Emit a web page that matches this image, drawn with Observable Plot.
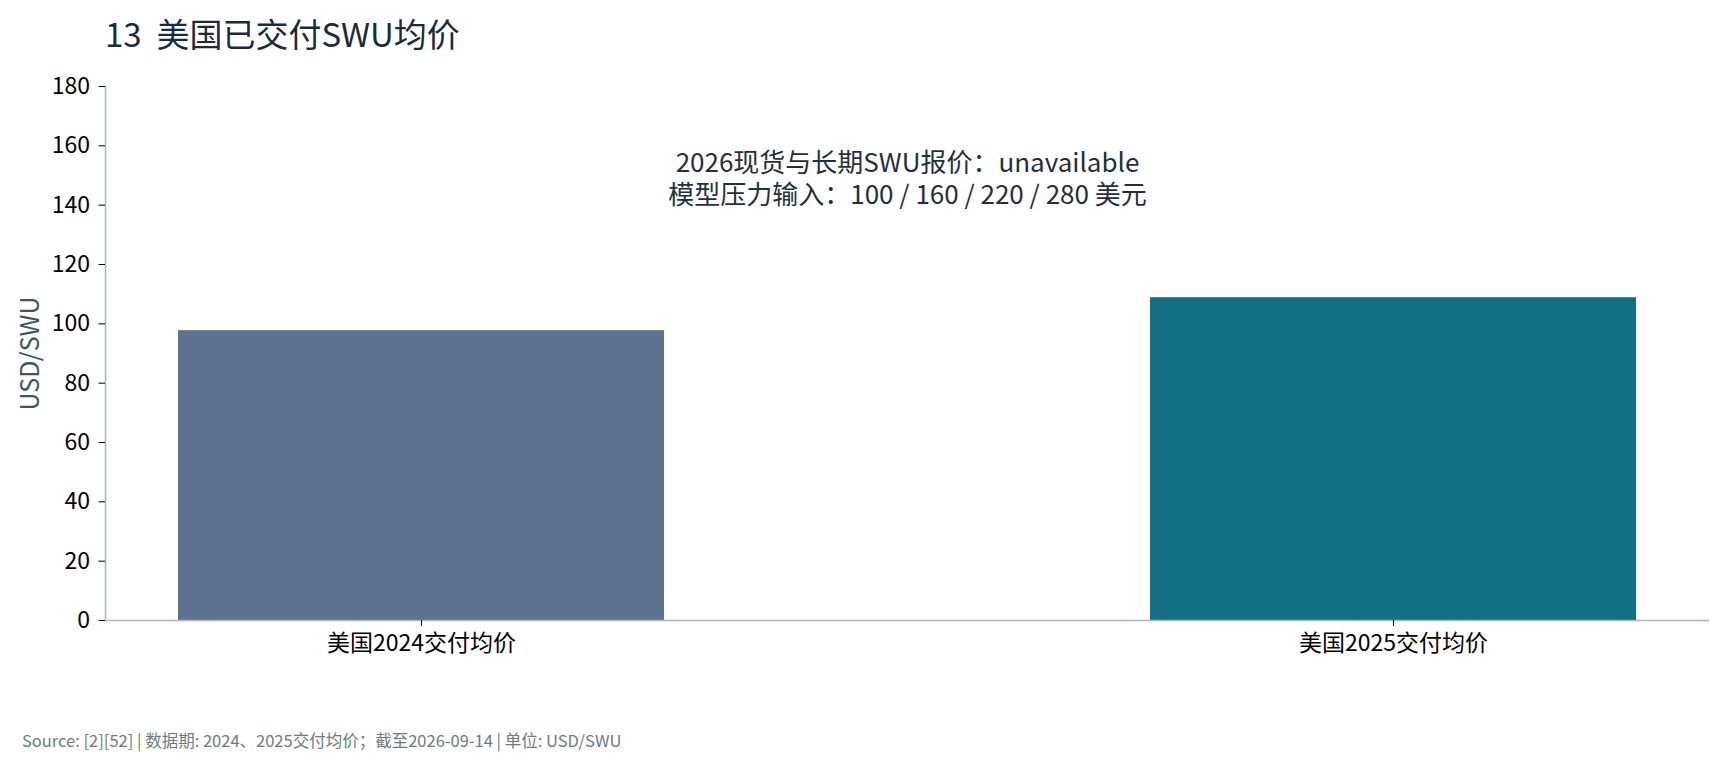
<!DOCTYPE html>
<html>
<head>
<meta charset="utf-8">
<script src="https://cdn.jsdelivr.net/npm/d3@7"></script>
<script src="https://cdn.jsdelivr.net/npm/@observablehq/plot@0.6"></script>
<style>
  html, body { margin: 0; padding: 0; background: #fff; }
  body { width: 1725px; height: 768px; position: relative; overflow: hidden; font-family: "Noto Sans CJK SC", "Noto Sans", sans-serif; }
  #title { position: absolute; left: 105px; top: 12px; font-size: 33px; line-height: 42px; color: #1b2b3b; white-space: pre; }
  #chart { position: absolute; left: 0; top: 60px; }
  #footer { position: absolute; left: 22px; top: 730px; font-size: 16.5px; line-height: 20px; color: #6b7a89; white-space: pre; }
</style>
</head>
<body>
<div id="title"></div>
<div id="chart"></div>
<div id="footer"></div>
<script>
const titleText = "13  美国已交付SWU均价";
const footerText = "Source: [2][52] | 数据期: 2024、2025交付均价；截至2026-09-14 | 单位: USD/SWU";
const categories = ["美国2024交付均价", "美国2025交付均价"];
const values = [97.7, 108.8];
const barColors = ["#5d7190", "#136f84"];
const yTicks = [0, 20, 40, 60, 80, 100, 120, 140, 160, 180];
const yLabel = "USD/SWU";
const noteLines = ["2026现货与长期SWU报价：unavailable", "模型压力输入：100 / 160 / 220 / 280 美元"];

document.getElementById("title").textContent = titleText;
document.getElementById("footer").textContent = footerText;

const data = categories.map((c, i) => ({cat: c, value: values[i], color: barColors[i]}));

const chart = Plot.plot({
  width: 1725,
  height: 620,
  marginLeft: 105,
  marginRight: 16,
  marginTop: 26,
  marginBottom: 60,
  style: {fontFamily: "'Noto Sans CJK SC', 'Noto Sans', sans-serif", background: "#fff", overflow: "visible"},
  x: {type: "band", domain: categories, paddingInner: 0.5, paddingOuter: 0.075},
  y: {domain: [0, 180]},
  marks: [
    Plot.barY(data, {x: "cat", y: "value", fill: "color"}),
    Plot.ruleY([0], {stroke: "#aab6c1", strokeWidth: 1.6}),
    Plot.frame({anchor: "left", stroke: "#aab6c1", strokeWidth: 1.6}),
    Plot.axisY({ticks: yTicks, tickSize: 6.5, tickPadding: 9, fontSize: 23, color: "#000", stroke: "#000", label: null}),
    Plot.axisX({tickSize: 6, tickPadding: 8, fontSize: 23, color: "#000", stroke: "#000", label: null}),
    Plot.text([yLabel], {frameAnchor: "left", dx: -75, rotate: -90, textAnchor: "middle", fontSize: 25, fill: "#415369"}),
    Plot.text([noteLines.join("\n")], {frameAnchor: "top", dy: 91, lineAnchor: "middle", lineHeight: 1.22, fontSize: 26, fill: "#1f2f3f"})
  ]
});
document.getElementById("chart").appendChild(chart);
</script>
</body>
</html>
